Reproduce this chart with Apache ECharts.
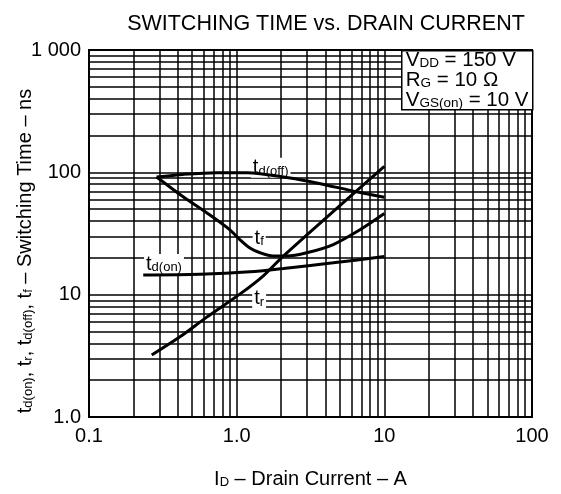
<!DOCTYPE html>
<html><head><meta charset="utf-8">
<script src="https://cdn.jsdelivr.net/npm/echarts@6/dist/echarts.min.js"></script>
<style>html,body{margin:0;padding:0;background:#fff}#c{width:561px;height:494px}</style>
</head><body><div id="c"></div>
<script>
// ---- data ----
var xTicks = [0.1, 1, 10, 100];
var xTickLabels = ['0.1', '1.0', '10', '100'];
var yTicks = [1, 10, 100, 1000];
var yTickLabels = ['1.0', '10', '100', '1 000'];

var tdOffX = [0.287, 0.434, 0.733, 1.17, 2.30, 3.48, 6.49, 10];
var tdOffY = [91.6, 96.2, 99.3, 99.3, 89.9, 81.9, 69.3, 62.5];

var tfX = [0.287, 0.434, 0.659, 0.90, 1.05, 1.23, 1.44, 1.77, 2.18, 2.98, 4.51, 6.84, 10];
var tfY = [91.6, 63.1, 44.8, 33.9, 28.2, 24.1, 22.0, 20.7, 20.7, 22.0, 25.7, 33.9, 46];

var tdOnX = [0.233, 0.564, 1.23, 2.07, 4.51, 10];
var tdOnY = [14.5, 14.7, 15.4, 16.4, 18.2, 20.5];

var trX = [0.266, 0.413, 0.627, 1.05, 1.51, 2.07, 10];
var trY = [3.21, 4.52, 6.55, 10.1, 14.2, 20.7, 112];

function zip(a, b) { return a.map(function (v, i) { return [v, b[i]]; }); }
function minorVals(lo, hi) {
  var r = [];
  for (var d = lo; d < hi; d *= 10) for (var k = 2; k <= 9; k++) r.push(+(d * k).toPrecision(3));
  return r;
}
var FONT = '"Liberation Sans", Arial, sans-serif';
var rich = {
  t: { fontSize: 20, fontFamily: FONT, color: '#000' },
  s: { fontSize: 13, fontFamily: FONT, color: '#000', verticalAlign: 'bottom', padding: [6, 0, 0, 0] }
};
function curveLabel(coord, txt) {
  return {
    symbol: 'rect', symbolSize: 1, itemStyle: { color: 'rgba(0,0,0,0)' },
    data: [{ coord: coord }],
    label: {
      show: true, position: 'inside', formatter: txt, rich: rich,
      backgroundColor: '#fff', padding: [0, 2, 0, 2]
    },
    silent: true, animation: false
  };
}
function curve(name, x, y, lbl) {
  return {
    name: name, type: 'line', data: zip(x, y), smooth: 0.3, symbol: 'none',
    lineStyle: { color: '#000', width: 3 }, z: 5, markPoint: lbl, animation: false
  };
}
var gridLines = {
  type: 'line', data: [], silent: true, z: 1, animation: false,
  markLine: {
    symbol: 'none', silent: true, animation: false, label: { show: false },
    lineStyle: { color: '#000', width: 1.5, type: 'solid' },
    data: minorVals(0.1, 100).map(function (v) { return { xAxis: v }; })
      .concat(minorVals(1, 1000).map(function (v) { return { yAxis: v }; }))
  }
};
var boxRich = {
  t: { fontSize: 20.5, fontFamily: FONT, fill: '#000' },
  s: { fontSize: 13.5, fontFamily: FONT, fill: '#000', padding: [6, 0, 0, 0] }
};
function boxLine(y, txt) {
  return { type: 'text', x: 4, y: y, z: 101, style: { text: txt, rich: boxRich, verticalAlign: 'middle' } };
}

var chart = echarts.init(document.getElementById('c'), null, { renderer: 'canvas' });
chart.setOption({
  backgroundColor: '#fff',
  animation: false,
  title: {
    text: 'SWITCHING TIME vs. DRAIN CURRENT', left: 321, top: 8, textAlign: 'center',
    textStyle: { fontFamily: FONT, fontSize: 21.5, fontWeight: 'normal', color: '#000' }
  },
  grid: { left: 89, top: 50, width: 443, height: 371, show: true, borderColor: '#000', borderWidth: 2, backgroundColor: '#fff', z: 0 },
  xAxis: {
    type: 'log', min: 0.1, max: 100, logBase: 10,
    name: '{t|I}{s|D}{t| – Drain Current – A}', nameLocation: 'middle', nameGap: 52,
    nameTextStyle: { rich: { t: { fontSize: 20, fontFamily: FONT, color: '#000' }, s: { fontSize: 13, fontFamily: FONT, color: '#000', verticalAlign: 'bottom', padding: [6, 0, 0, 0] } } },
    axisLine: { show: false }, axisTick: { show: false },
    axisLabel: { fontSize: 20, fontFamily: FONT, color: '#000', margin: 9,
      formatter: function (v) { var i = xTicks.findIndex(function (t) { return Math.abs(Math.log10(t) - Math.log10(v)) < 1e-6; }); return i >= 0 ? xTickLabels[i] : ''; } },
    splitLine: { show: true, lineStyle: { color: '#000', width: 1.5 } }
  },
  yAxis: {
    type: 'log', min: 1, max: 1000, logBase: 10,
    axisLine: { show: false }, axisTick: { show: false },
    axisLabel: { fontSize: 20, fontFamily: FONT, color: '#000', margin: 8,
      formatter: function (v) { var i = yTicks.findIndex(function (t) { return Math.abs(Math.log10(t) - Math.log10(v)) < 1e-6; }); return i >= 0 ? yTickLabels[i] : ''; } },
    splitLine: { show: true, lineStyle: { color: '#000', width: 1.5 } }
  },
  series: [
    gridLines,
    curve('td(off)', tdOffX, tdOffY, curveLabel([1.7, 109], '{t|t}{s|d(off)}')),
    curve('tf', tfX, tfY, curveLabel([1.42, 29], '{t|t}{s|f}')),
    curve('td(on)', tdOnX, tdOnY, curveLabel([0.322, 17.8], '{t|t}{s|d(on)}')),
    curve('tr', trX, trY, curveLabel([1.42, 9.3], '{t|t}{s|r}'))
  ],
  graphic: [
    {
      type: 'group', left: 401, top: 50, z: 100,
      children: [
        { type: 'rect', z: 100, shape: { x: 0, y: 0, width: 131, height: 59 }, style: { fill: '#fff', stroke: '#000', lineWidth: 1.5 } },
        boxLine(10, '{t|V}{s|DD}{t| = 150 V}'),
        boxLine(30, '{t|R}{s|G}{t| = 10 Ω}'),
        boxLine(50, '{t|V}{s|GS(on)}{t| = 10 V}')
      ]
    },
    {
      type: 'text', x: 25, y: 251, rotation: Math.PI / 2, z: 100,
      style: {
        text: '{t|t}{s|d(on)}{t|, t}{s|r}{t|, t}{s|d(off)}{t|, t}{s|f}{t| – Switching Time – ns}',
        rich: { t: { fontSize: 20, fontFamily: FONT, fill: '#000' }, s: { fontSize: 13, fontFamily: FONT, fill: '#000', padding: [6, 0, 0, 0] } },
        align: 'center', verticalAlign: 'middle'
      }
    }
  ]
});
</script>
</body></html>
